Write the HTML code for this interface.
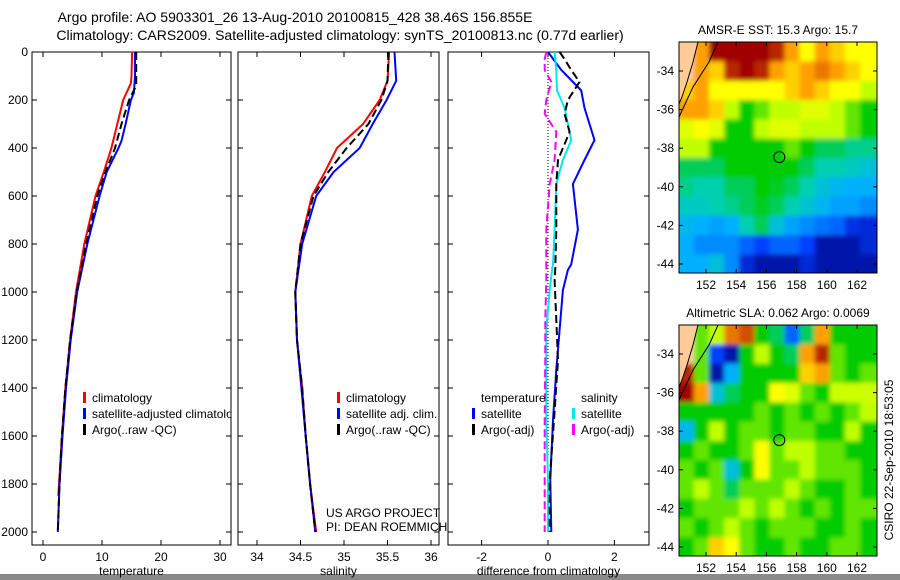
<!DOCTYPE html>
<html><head><meta charset="utf-8"><style>
html,body{margin:0;padding:0;background:#fff;}
svg{display:block;font-family:"Liberation Sans",sans-serif;}
</style></head><body>
<svg id="fig" width="900" height="580" viewBox="0 0 900 580">
<defs><filter id="smooth" x="-10%" y="-10%" width="120%" height="120%"><feGaussianBlur stdDeviation="2.5"/></filter></defs>
<rect x="0" y="0" width="900" height="580" fill="#fff"/>
<rect x="0" y="574" width="900" height="6" fill="#8a8a8a"/>
<text x="295" y="22" font-size="14" text-anchor="middle">Argo profile: AO 5903301_26 13-Aug-2010 20100815_428 38.46S 156.855E</text>
<text x="340" y="40" font-size="14" text-anchor="middle">Climatology: CARS2009. Satellite-adjusted climatology: synTS_20100813.nc (0.77d earlier)</text>
<g id="plots"></g>
</svg>
<script>
// ---- profile data ----
const depthTicks=[0,200,400,600,800,1000,1200,1400,1600,1800,2000];
const tDepth=[0,100,130,200,300,400,500,600,800,1000,1200,1400,1600,1850];
const tClim=[15.1,15.0,14.9,13.6,12.6,11.6,10.3,8.9,7.0,5.6,4.6,3.8,3.2,2.6];
const tsDepth=[0,100,170,200,300,370,400,500,600,800,1000,1200,1400,1600,1800,2000];
const tSat=[15.6,15.6,15.4,14.9,14.0,13.3,12.8,10.8,9.6,7.5,5.8,4.7,3.9,3.3,2.8,2.5];
const taDepth=[0,140,200,300,400,500,600,800,1000,1200,1400,1600,1800,2000];
const tArgo=[15.8,15.8,14.6,13.3,12.2,10.6,9.2,7.3,5.7,4.6,3.8,3.2,2.8,2.5];
const sDepth=[0,120,200,300,400,500,600,800,1000,1200,1400,1600,1800,2000];
const sClim=[35.52,35.5,35.41,35.22,34.92,34.78,34.63,34.5,34.44,34.46,34.52,34.56,34.61,34.68];
const sSat=[35.58,35.6,35.49,35.33,35.18,34.88,34.68,34.52,34.44,34.46,34.51,34.56,34.61,34.67];
const sArgo=[35.51,35.5,35.43,35.28,35.03,34.82,34.65,34.5,34.44,34.46,34.52,34.56,34.61,34.67];
const dDepth=[0,75,160,233,367,450,550,740,885,908,992,1158,1325,1533,1783,2000];
const dTempSat=[0,0.4,1.0,1.1,1.4,1.1,0.75,0.9,0.7,0.6,0.45,0.35,0.25,0.15,0.07,0.1];
const dSalSat=[0.2,0.25,0.27,0.5,0.7,0.45,0.25,0.2,0.15,0.12,0.05,-0.05,-0.05,-0.05,0,0];
const daDepth=[0,30,75,125,200,258,333,450,550,740,900,950,1117,1283,1533,1783,2000];
const dTempArgo=[0.35,0.5,0.7,0.95,0.6,0.5,0.65,0.3,0.25,0.25,0.22,0.2,0.25,0.3,0.18,0.05,0.05];
const dSalArgo=[-0.05,-0.1,-0.1,0.1,-0.05,-0.1,0.25,0.2,0.05,-0.05,-0.05,-0.05,-0.08,-0.08,-0.1,-0.1,-0.1];
// ---- map data (rows from north -33 to south -44, cols lon 150.7..162.7) ----
const sstGrid=[
[-1,.8,1,1,1,1,.95,.8,.7,.8,.75,.7,.7],
[-1,.8,.75,.95,1,.95,.8,.75,.8,.85,.8,.75,.7],
[.75,.8,.7,.7,.7,.7,.7,.75,.8,.75,.7,.7,.6],
[.8,.8,.75,.6,.5,.55,.6,.6,.65,.65,.6,.55,.5],
[.65,.7,.65,.5,.5,.6,.65,.65,.6,.6,.6,.55,.5],
[.6,.6,.5,.5,.5,.5,.5,.55,.5,.45,.45,.42,.42],
[.45,.45,.45,.5,.5,.5,.5,.5,.45,.4,.4,.38,.35],
[.42,.4,.4,.45,.45,.5,.48,.45,.4,.35,.32,.3,.3],
[.38,.38,.4,.42,.45,.48,.45,.4,.36,.32,.28,.28,.25],
[.32,.3,.28,.3,.4,.45,.35,.28,.25,.22,.2,.12,.1],
[.3,.25,.25,.25,.2,.15,.2,.2,.15,.05,.05,.05,.1],
[.3,.3,.35,.25,.1,.05,.05,.05,.1,.05,.05,.05,.05]];
const slaGrid=[
[-1,.55,.6,.85,.9,.5,.45,.2,.45,.8,.5,.5,.5],
[-1,.55,.15,.05,.5,.6,.5,.45,.8,.95,.55,.5,.5],
[.95,.55,.05,.3,.5,.5,.5,.5,.75,.8,.55,.5,.55],
[1,.8,.35,.45,.5,.5,.7,.65,.55,.5,.62,.62,.62],
[.5,.5,.5,.5,.5,.55,.5,.55,.5,.55,.5,.55,.6],
[.32,.5,.6,.5,.55,.55,.5,.55,.55,.5,.5,.6,.5],
[.5,.55,.5,.5,.55,.7,.55,.6,.6,.55,.55,.5,.5],
[.55,.5,.55,.35,.5,.7,.55,.55,.6,.55,.55,.55,.5],
[.55,.6,.55,.45,.55,.55,.55,.6,.55,.5,.5,.55,.5],
[.5,.55,.55,.55,.6,.55,.6,.55,.5,.55,.5,.55,.55],
[.55,.5,.55,.6,.55,.5,.55,.55,.55,.5,.5,.55,.5],
[.5,.55,.75,.7,.55,.5,.5,.55,.5,.5,.55,.55,.5]];
const lonTicks=[152,154,156,158,160,162];
const latTicks=[-34,-36,-38,-40,-42,-44];
const argoLon=156.855, argoLat=-38.46;

const NS='http://www.w3.org/2000/svg';
const root=document.getElementById('plots');
function el(tag,attrs,parent,txt){const e=document.createElementNS(NS,tag);for(const k in attrs)e.setAttribute(k,attrs[k]);if(txt!==undefined)e.textContent=txt;(parent||root).appendChild(e);return e;}
const yD=d=>52+d*0.24;
const PT=545;
function panel(name,x0,x1,xs,ticks,fmt,xlabel,showY){
  const g=el('g',{});
  
  
  el('rect',{x:x0,y:52,width:x1-x0,height:PT-52,fill:'none',stroke:'#000','stroke-width':1},g);
  ticks.forEach(v=>{const x=xs(v);
    el('line',{x1:x,y1:PT,x2:x,y2:PT-5,stroke:'#000'},g);el('line',{x1:x,y1:52,x2:x,y2:57,stroke:'#000'},g);
    const t=el('text',{x:x,y:PT+16,'font-size':12,'text-anchor':'middle'},g,fmt(v));
    });
  depthTicks.forEach(d=>{const y=yD(d);
    el('line',{x1:x0,y1:y,x2:x0+5,y2:y,stroke:'#000'},g);el('line',{x1:x1,y1:y,x2:x1-5,y2:y,stroke:'#000'},g);
    if(showY){const t=el('text',{x:x0-4,y:y+4,'font-size':12,'text-anchor':'end'},g,d);
      }});
  const l=el('text',{x:(x0+x1)/2,y:PT+30,'font-size':12,'text-anchor':'middle'},g,xlabel);
  
  return g;}
function line(g,name,xs,vals,deps,color,w,dash){
  const pts=vals.map((v,i)=>xs(v).toFixed(1)+','+yD(deps[i]).toFixed(1)).join(' ');
  const p=el('polyline',{points:pts,fill:'none',stroke:color,'stroke-width':w},g);
  if(dash)p.setAttribute('stroke-dasharray',dash);
  }
function legend(g,x,y,items){
  items.forEach((it,i)=>{const yy=y+i*16;
    if(it[1])el('rect',{x:x,y:yy-10,width:3,height:11,fill:it[1]},g);
    const t=el('text',{x:x+9,y:yy,'font-size':12},g,it[0]);
    });}

// panel 1 temperature
const xT=v=>43+v*5.9;
let g1=panel('temperature-panel',32,231,xT,[0,10,20,30],v=>v,'temperature',true);
line(g1,'temp-climatology-line',xT,tClim,tDepth,'#f00',2);
line(g1,'temp-satellite-line',xT,tSat,tsDepth,'#00f',2);
line(g1,'temp-argo-line',xT,tArgo,taDepth,'#000',2,'8,4');
const c1=el('clipPath',{id:'cp1'});el('rect',{x:32,y:52,width:199,height:493},c1);
const lg1=el('g',{'clip-path':'url(#cp1)'},g1);
legend(lg1,83,402,[['climatology','#f00'],['satellite-adjusted climatology','#00f'],['Argo(..raw -QC)','#000']]);

// panel 2 salinity
const xS=v=>257+(v-34)*87;
let g2=panel('salinity-panel',238,439,xS,[34,34.5,35,35.5,36],v=>v,'salinity',false);
line(g2,'sal-climatology-line',xS,sClim,sDepth,'#f00',2);
line(g2,'sal-satellite-line',xS,sSat,sDepth,'#00f',2);
line(g2,'sal-argo-line',xS,sArgo,sDepth,'#000',2,'8,4');
legend(g2,337,402,[['climatology','#f00'],['satellite adj. clim.','#00f'],['Argo(..raw -QC)','#000']]);
const c2=el('clipPath',{id:'cp2'});el('rect',{x:238,y:52,width:212,height:493},c2);
const pg=el('g',{'clip-path':'url(#cp2)'},g2);
el('text',{x:326,y:517,'font-size':12},pg,'US ARGO PROJECT');
el('text',{x:326,y:531,'font-size':12},pg,'PI: DEAN ROEMMICH');

// panel 3 difference
const xDf=v=>548+v*33.2;
let g3=panel('difference-panel',448,649,xDf,[-2,0,2],v=>v,'difference from climatology',false);
el('line',{x1:xDf(0),y1:52,x2:xDf(0),y2:yD(2000),stroke:'#000','stroke-dasharray':'1,2'},g3);
line(g3,'diff-temp-satellite-line',xDf,dTempSat,dDepth,'#00f',2);
line(g3,'diff-sal-satellite-line',xDf,dSalSat,dDepth,'#00e8e8',2);
line(g3,'diff-temp-argo-line',xDf,dTempArgo,daDepth,'#000',2,'8,4');
line(g3,'diff-sal-argo-line',xDf,dSalArgo,daDepth,'#f0f',2,'8,4');
legend(g3,472,402,[['temperature',null],['satellite','#00f'],['Argo(-adj)','#000']]);
legend(g3,572,402,[['salinity',null],['satellite','#00e8e8'],['Argo(-adj)','#f0f']]);

// colormap
const stops=[[0,[0,0,128]],[.15,[0,64,255]],[.3,[0,176,255]],[.4,[0,208,176]],[.5,[0,204,0]],[.6,[192,255,0]],[.7,[255,255,0]],[.8,[255,160,0]],[.9,[208,80,0]],[1,[160,0,0]]];
function cmap(v){for(let i=1;i<stops.length;i++){if(v<=stops[i][0]){const a=stops[i-1],b=stops[i],f=(v-a[0])/(b[0]-a[0]);return 'rgb('+a[1].map((c,k)=>Math.round(c+(b[1][k]-c)*f)).join(',')+')';}}return 'rgb(160,0,0)';}
function map(name,top,grid,title){
  const x0=679,x1=877,bot=top+231;
  const xL=lon=>706+(lon-152)*15.1, yL=lat=>top+29+(-34-lat)*19.3;
  const g=el('g',{});
  
  
  const cid='cm'+top;const cp=el('clipPath',{id:cid});el('rect',{x:x0,y:top,width:x1-x0,height:bot-top},cp);
  const cg=el('g',{'clip-path':'url(#'+cid+')'},g);
  const bg=el('g',{filter:'url(#smooth)'},cg);
  const nR=grid.length,nC=grid[0].length;
  grid.forEach((row,r)=>row.forEach((v,c)=>{
    const lon=150.2+c, lat=-32.5-r;
    let x=xL(lon), y=yL(lat), w=15.6, h=19.8;
    if(c===0){x-=20;w+=20;} if(c===nC-1){w+=20;}
    if(r===0){y-=20;h+=20;} if(r===nR-1){h+=20;}
    const cell=el('rect',{x:x.toFixed(1),y:y.toFixed(1),width:w,height:h,fill:v<0?'#ffcc99':cmap(v)},bg);
    
    }));
  el('polygon',{points:`${x0-5},${top-5} ${x0+19},${top-5} ${x0+19},${top} ${x0+14},${top+20} ${x0+8},${top+40} ${x0+3},${top+55} ${x0},${top+62} ${x0-5},${top+62}`,fill:'#ffcc99'},cg);
  el('polyline',{points:`${x0+19},${top} ${x0+14},${top+20} ${x0+8},${top+40} ${x0+3},${top+55} ${x0},${top+62}`,fill:'none',stroke:'#000'},cg);
  el('polyline',{points:`${x0+39},${top} ${x0+30},${top+20} ${x0+14},${top+45} ${x0},${top+75}`,fill:'none',stroke:'#000'},cg);
  el('rect',{x:x0,y:top,width:x1-x0,height:bot-top,fill:'none',stroke:'#000'},g);
  const mk=el('circle',{cx:xL(argoLon),cy:yL(argoLat),r:5.5,fill:'none',stroke:'#000'},g);
  
  lonTicks.forEach(v=>{const x=xL(v);el('line',{x1:x,y1:top,x2:x,y2:top+4,stroke:'#000'},g);el('line',{x1:x,y1:bot,x2:x,y2:bot-4,stroke:'#000'},g);
    const t=el('text',{x:x,y:bot+16,'font-size':12,'text-anchor':'middle'},g,v);});
  latTicks.forEach(v=>{const y=yL(v);el('line',{x1:x0,y1:y,x2:x0+4,y2:y,stroke:'#000'},g);el('line',{x1:x1,y1:y,x2:x1-4,y2:y,stroke:'#000'},g);
    const t=el('text',{x:x0-5,y:y+4,'font-size':12,'text-anchor':'end'},g,v);});
  const tt=el('text',{x:(x0+x1)/2,y:top-8,'font-size':12,'text-anchor':'middle'},g,title);
  }
map('sst-map',42,sstGrid,'AMSR-E SST: 15.3 Argo: 15.7');
map('sla-map',325,slaGrid,'Altimetric SLA: 0.062 Argo: 0.0069');
const ct=el('text',{x:0,y:0,'font-size':12,'text-anchor':'middle',transform:'translate(893,460) rotate(-90)'},root,'CSIRO 22-Sep-2010 18:53:05');


</script>
</body></html>
